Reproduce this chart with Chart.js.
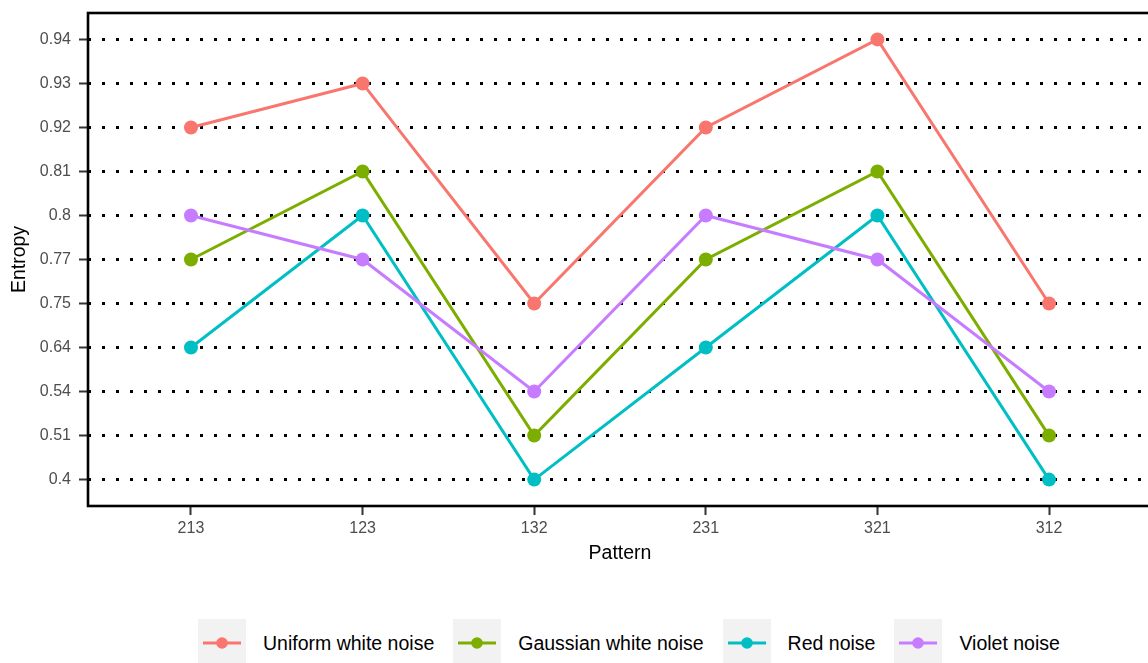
<!DOCTYPE html>
<html>
<head>
<meta charset="utf-8">
<script src="https://cdn.jsdelivr.net/npm/chart.js@4"></script>
<style>
  html, body { margin: 0; padding: 0; background: #fff; width: 1148px; height: 663px; overflow: hidden; }
  #wrap { position: absolute; left: 0; top: 0; }
  #legend { position: absolute; left: 198px; top: 619px; display: flex; align-items: center; font-family: "Liberation Sans", Arial, sans-serif; font-size: 19.5px; color: #000; }
  .item { display: flex; align-items: center; margin-right: 19px; }
  .box { width: 48px; height: 48px; background: #f2f2f2; margin-right: 17px; }
  .box svg { display: block; }
</style>
</head>
<body>
<div id="wrap"><canvas id="c" width="1159" height="570"></canvas></div>
<div id="legend"></div>
<script>
const patterns = ['213', '123', '132', '231', '321', '312'];
const entropyLevels = [0.4, 0.51, 0.54, 0.64, 0.75, 0.77, 0.8, 0.81, 0.92, 0.93, 0.94];
const uniformWhite = [0.92, 0.93, 0.75, 0.92, 0.94, 0.75];
const gaussianWhite = [0.77, 0.81, 0.51, 0.77, 0.81, 0.51];
const redNoise = [0.64, 0.8, 0.4, 0.64, 0.8, 0.4];
const violetNoise = [0.8, 0.77, 0.54, 0.8, 0.77, 0.54];
const seriesNames = ['Uniform white noise', 'Gaussian white noise', 'Red noise', 'Violet noise'];
const seriesColors = ['#F8766D', '#7CAE00', '#00BFC4', '#C77CFF'];
const seriesValues = [uniformWhite, gaussianWhite, redNoise, violetNoise];

Chart.defaults.font.family = '"Liberation Sans", Arial, sans-serif';

const datasets = seriesValues.map((vals, k) => ({
  label: seriesNames[k],
  data: vals.map((v, i) => ({ x: i, y: entropyLevels.indexOf(v) })),
  borderColor: seriesColors[k],
  backgroundColor: seriesColors[k],
  pointBackgroundColor: seriesColors[k],
  pointBorderWidth: 0,
  pointRadius: 7,
  borderWidth: 3,
  tension: 0,
  order: seriesValues.length - k
}));

const framePlugin = {
  id: 'frame',
  afterDraw(chart) {
    const { ctx, chartArea: a } = chart;
    ctx.save();
    ctx.strokeStyle = '#000';
    ctx.lineWidth = 2.6;
    ctx.strokeRect(a.left, a.top, a.right - a.left, a.bottom - a.top);
    ctx.restore();
  }
};

function zeroPad(s) {
  s.paddingTop = 0; s.paddingBottom = 0; s.paddingLeft = 0; s.paddingRight = 0;
}

new Chart(document.getElementById('c'), {
  type: 'line',
  data: { datasets },
  plugins: [framePlugin],
  options: {
    responsive: false,
    animation: false,
    devicePixelRatio: 1,
    layout: { padding: { top: 13, left: 0, right: 0, bottom: 0 } },
    plugins: { legend: { display: false }, tooltip: { enabled: false } },
    scales: {
      x: {
        type: 'linear',
        min: -0.6,
        max: patterns.length - 1 + 0.6,
        afterBuildTicks: s => { s.ticks = patterns.map((_, i) => ({ value: i })); },
        afterFit: s => { s.height = 64; zeroPad(s); },
        ticks: {
          callback: v => patterns[v],
          color: '#4d4d4d',
          font: { size: 16 },
          padding: 4,
          maxRotation: 0,
          autoSkip: false
        },
        grid: { drawOnChartArea: false, drawTicks: true, tickLength: 9, tickColor: '#333333', tickWidth: 2 },
        border: { display: false },
        title: { display: true, text: 'Pattern', color: '#000', font: { size: 19.5 }, padding: { top: 0, bottom: 5 } }
      },
      y: {
        type: 'linear',
        min: -0.6,
        max: entropyLevels.length - 1 + 0.6,
        afterBuildTicks: s => { s.ticks = entropyLevels.map((_, i) => ({ value: i })); },
        afterFit: s => { s.width = 88; zeroPad(s); },
        ticks: {
          callback: v => String(entropyLevels[v]),
          color: '#4d4d4d',
          font: { size: 16 },
          padding: 8,
          autoSkip: false
        },
        grid: { drawOnChartArea: true, color: '#000', lineWidth: 3, drawTicks: true, tickLength: 9, tickColor: '#333333', tickWidth: 2 },
        border: { display: false, dash: [3, 11] },
        title: { display: true, text: 'Entropy', color: '#000', font: { size: 19.5 }, padding: { top: 7.5, bottom: 0 } }
      }
    }
  }
});

const legend = document.getElementById('legend');
seriesNames.forEach((name, k) => {
  const item = document.createElement('div');
  item.className = 'item';
  item.innerHTML = '<div class="box"><svg width="48" height="48"><line x1="5" y1="24" x2="43" y2="24" stroke="' + seriesColors[k] + '" stroke-width="3"/><circle cx="24" cy="24" r="5.8" fill="' + seriesColors[k] + '"/></svg></div><span>' + name + '</span>';
  legend.appendChild(item);
});
</script>
</body>
</html>
